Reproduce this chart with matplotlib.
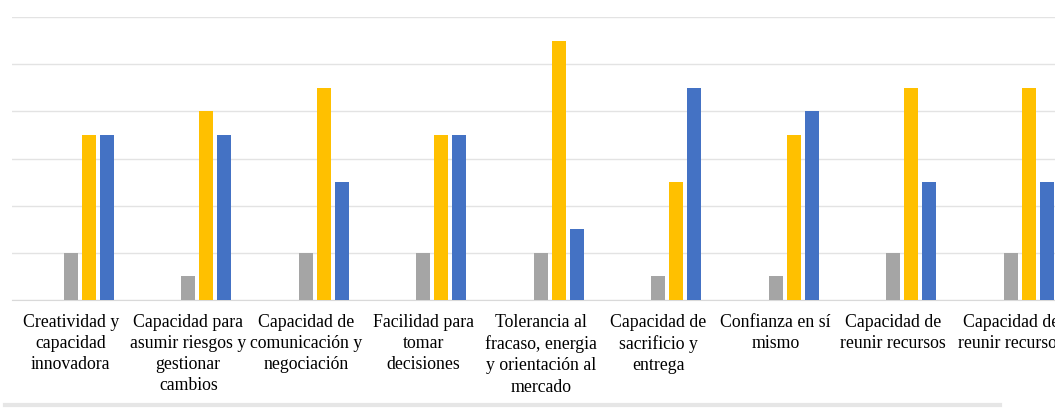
import numpy as np
import matplotlib.pyplot as plt
from matplotlib.lines import Line2D

categorias = ['Creatividad y\ncapacidad\ninnovadora',
              'Capacidad para\nasumir riesgos y\ngestionar\ncambios',
              'Capacidad de\ncomunicación y\nnegociación',
              'Facilidad para\ntomar\ndecisiones',
              'Tolerancia al\nfracaso, energia\ny orientación al\nmercado',
              'Capacidad de\nsacrificio y\nentrega',
              'Confianza en sí\nmismo',
              'Capacidad de\nreunir recursos',
              'Capacidad de\nreunir recursos']
serie_gris = [1, 0.5, 1, 1, 1, 0.5, 0.5, 1, 1]
serie_amarilla = [3.5, 4, 4.5, 3.5, 5.5, 2.5, 3.5, 4.5, 4.5]
serie_azul = [3.5, 3.5, 2.5, 3.5, 1.5, 4.5, 4, 2.5, 2.5]

colors = ['#a5a5a5', '#ffc000', '#4472c4']
plt.rcParams.update({'font.family': 'serif'})
plt.rcParams.update({'font.serif': ['Liberation Serif', 'DejaVu Serif']})

fig = plt.figure(figsize=(10.55, 4.17), dpi=100)
# axes goes past the right edge, last group is cut off like in the original
ax = fig.add_axes([12/1055, 1-300/417, 1057.5/1055, 283/417])

x = np.arange(len(categorias))
paso = 0.153
ancho = 0.12
ax.bar(x, serie_gris, ancho, color=colors[0], zorder=3)
ax.bar(x + paso, serie_amarilla, ancho, color=colors[1], zorder=3)
ax.bar(x + 2*paso, serie_azul, ancho, color=colors[2], zorder=3)

ax.set_xlim(-0.5, 8.5)
ax.set_ylim(0, 6)
ax.set_yticks(np.arange(0, 7, 1))
ax.set_yticklabels([])
ax.grid(axis='y', color='#e3e3e3', linewidth=1, zorder=0)
ax.set_xticks(x)
ax.set_xticklabels(categorias, fontsize=12.8, linespacing=1.32, va='top')
ax.tick_params(axis='both', length=0)
ax.tick_params(axis='x', pad=10)
for s in ['top', 'right', 'left']:
    ax.spines[s].set_visible(False)
ax.spines['bottom'].set_color('#d9d9d9')

# light frame line under the labels
fig.add_artist(Line2D([5/1055, 1000/1055], [1-405/417, 1-405/417],
                      color='#e6e6e6', linewidth=3, transform=fig.transFigure))

plt.savefig('out.png', dpi=100)
